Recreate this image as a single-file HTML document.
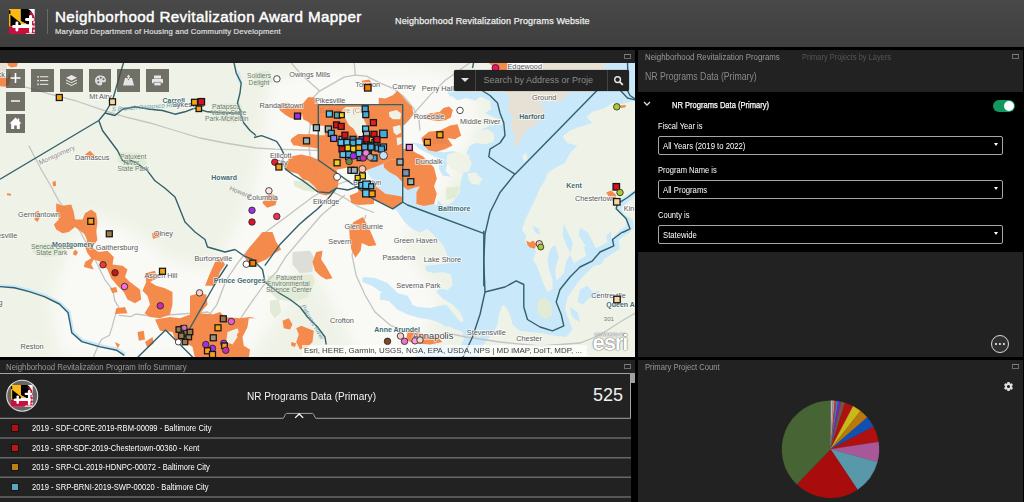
<!DOCTYPE html>
<html><head><meta charset="utf-8"><title>Neighborhood Revitalization Award Mapper</title>
<style>
*{box-sizing:border-box;margin:0;padding:0}
html,body{width:1024px;height:502px;overflow:hidden;background:#000;font-family:"Liberation Sans",sans-serif;color:#fff}
.abs{position:absolute}
#hdr{left:0;top:0;width:1024px;height:47px;background:linear-gradient(#494949,#3e3e3e)}
#hdr .t1{left:55px;top:7.7px;font-size:15.2px;font-weight:normal;letter-spacing:.37px;-webkit-text-stroke:.45px #fff;white-space:nowrap;color:#fff}
#hdr .t2{left:55px;top:27.3px;font-size:7.7px;font-weight:normal;letter-spacing:.17px;-webkit-text-stroke:.22px #ddd;white-space:nowrap;color:#ddd}
#hdr .lnk{left:395px;top:16px;font-size:9px;font-weight:normal;letter-spacing:.13px;-webkit-text-stroke:.25px #eee;white-space:nowrap;color:#eee}
#hdr .sep{left:47px;top:9px;width:1px;height:25px;background:#6a6a6a}
.panel{background:#222}
.ptitle{font-size:8.5px;color:#989898;white-space:nowrap;transform-origin:0 50%}
.sx{transform-origin:0 50%;display:inline-block}
.maxi{width:6.5px;height:5.4px;border:1px solid #6c6c6c;border-top:1.6px solid #808080}
#mapbar{left:0;top:50px;width:635px;height:13px;background:#222}
#map{left:0;top:63px;width:635px;height:294px;background:#f3f4ee;overflow:hidden}
.mbtn{background:rgba(85,85,85,.88);width:23px;height:23px}
#rp{left:638px;top:50px;width:385px;height:307px}
#rpblack{left:0;top:42px;width:386px;height:160px;background:#000}
.lbl{font-size:9px;color:#fff;white-space:nowrap;transform-origin:0 50%;transform:scaleX(.84)}
.sel{left:20px;width:344.5px;height:19px;border:1px solid #a6a6a6;background:#000;border-radius:2px}
.sel span{position:absolute;left:4px;top:4px;font-size:9px;white-space:nowrap;transform-origin:0 50%;transform:scaleX(.858)}
.sel i{position:absolute;right:3.5px;top:6px;border-left:2.7px solid transparent;border-right:2.7px solid transparent;border-top:3.3px solid #fff}
#bl{left:0;top:360px;width:635px;height:142px}
#br{left:638px;top:360px;width:385px;height:142px}
.row{left:0;width:631px;height:20px}
.row b{position:absolute;left:11.3px;top:6px;width:7.6px;height:7.6px;border:1px solid #151515}
.row span{position:absolute;left:31.5px;top:4.5px;font-size:8.5px;white-space:nowrap;font-weight:normal;transform-origin:0 50%;transform:scaleX(.892)}
</style></head><body>
<div id="hdr" class="abs">
  <div class="abs" style="left:9px;top:8.7px;width:25.7px;height:25.7px"><svg width="25.7" height="25.7" viewBox="0 0 360 360"><rect width="360" height="360" fill="#fff"/><rect x="0" y="0" width="165" height="240" fill="#fdb913"/><polygon points="20,80 165,195 165,240 20,240" fill="#000"/><polygon points="0,15 20,25 20,75 0,62" fill="#000"/><path d="M165,0 H268 Q335,30 338,115 L300,140 V215 H255 L165,170 Z" fill="#000"/><polygon points="165,172 250,215 165,215" fill="#fdb913"/><path d="M285,28 Q360,55 360,150 V340 H300 V100 Z" fill="#c8103c"/><path d="M0,240 H300 V340 H245 Q225,360 195,360 H0 Z" fill="#c8103c"/><rect x="281" y="85" width="42" height="252" rx="18" fill="#fff"/><rect x="226" y="127" width="125" height="40" rx="18" fill="#fff"/><rect x="44" y="225" width="292" height="40" rx="18" fill="#fff"/><rect x="91" y="174" width="40" height="140" rx="18" fill="#fff"/><rect x="340" y="172" width="20" height="28" fill="#fff"/><rect x="340" y="232" width="20" height="28" fill="#fff"/><rect x="340" y="292" width="20" height="28" fill="#fff"/></svg></div>
  <div class="abs sep"></div>
  <div class="abs t1">Neighborhood Revitalization Award Mapper</div>
  <div class="abs t2">Maryland Department of Housing and Community Development</div>
  <div class="abs lnk">Neighborhood Revitalization Programs Website</div>
</div>
<div id="mapbar" class="abs"><div class="abs maxi" style="left:624.3px;top:3.6px"></div></div>
<div id="map" class="abs">
<svg width="635" height="294" viewBox="0 63 635 294" style="position:absolute;left:0;top:0;font-family:'Liberation Sans',sans-serif">
<rect x="0" y="63" width="635" height="294" fill="#eff3e7"/>
<defs><filter id="bl" x="-20%" y="-20%" width="140%" height="140%"><feGaussianBlur stdDeviation="7"/></filter></defs>
<g filter="url(#bl)">
<polygon points="270,80 330,66 420,66 470,80 480,120 460,160 440,200 400,240 440,300 420,345 360,357 330,300 300,250 270,230 250,200 262,150" fill="#f9f9f6"/>
<polygon points="250,200 300,250 290,300 250,357 60,357 50,300 70,250 90,215 130,230 170,260 215,270 235,230" fill="#f9f9f6"/>
</g>
<polygon points="537.5,300.8 545,297.5 551.2,303.2 552.5,314.5 546.2,319.5 540,315.8 537,308.2" fill="#e2ebd5"/>
<polygon points="267.5,275.8 312.5,274.5 315,282 307.5,297 295,302 277.5,299.5 267.5,289.5" fill="#e2ebd5"/>
<polygon points="270,300.8 278.8,299.5 281.2,312 275,318.2 270,312" fill="#e2ebd5"/>
<polygon points="32.5,244.5 50,243.2 65,247 62.5,255.8 45,257 32.5,253.2" fill="#e2ebd5"/>
<polygon points="212.5,104.2 240,103 243.8,113 235,123 220,121.8 210,114.2" fill="#e2ebd5"/>
<polygon points="117.5,151.8 140,153 147.5,163 140,170.5 125,168 117.5,160.5" fill="#e2ebd5"/>
<polygon points="254,72.4 269,70.5 272.8,81.8 261.5,87.4 254,85.5" fill="#e2ebd5"/>
<polygon points="293.4,180.6 308.4,181.6 315.9,186.3 314,191.9 302.8,190 294.3,186.3" fill="#e2ebd5"/>
<polygon points="446.2,187.5 460,186.2 456.2,197.5 446.2,200" fill="#e2ebd5"/>
<polygon points="292.5,252 310,250.8 313.8,257 312.5,272 300,273.2 292.5,264.5" fill="#deded8"/>
<polygon points="455,88 451.2,95.5 457.5,100.5 466.2,98 475,100.5 480,96.8 490,100.5 491.2,109.2 485,113 492.5,116.8 501.2,120 502.5,124.2 490,125.5 483.8,128.5 478.8,131.8 485,135.5 493.8,136.8 493.8,141.8 485,144.2 476.2,143 470,145.5 466.2,153 470,156.8 466.2,161.8 463.8,170.5 461.2,180.5 459.5,192.5 452.5,202.5 443.8,206.2 438,200 437,207.5 430,206.8 417.5,206.2 415.8,195 410,188 404.5,195 402.5,203 395,208 400.5,216 404.5,222 413,229.5 420,232.5 427.5,228.8 433.8,235 442.5,244.5 447,254.5 449.5,263.2 451.2,274.5 452.5,285.8 447.5,290 440,288.2 436.2,292 442.5,298.2 452.5,304.5 460,312 463.8,320.8 455,325 446,314.5 437.5,311.5 430,312 440,319.5 452.5,328.2 462.5,332 463.8,339.5 460,347 455,358.2 637,358 637,62 455,62" fill="#c9e8fa"/>
<polygon points="412.5,142.5 422.5,144.2 433.8,150 443.8,152.5 452.5,151 462.5,153.5 466.2,159.2 455,161 447.5,163.5 445.5,171 451.2,176.8 442.5,175.5 438.8,168 440,159.2 430,154.2 420,149.2" fill="#c9e8fa"/>
<polygon points="370.3,160.9 381.5,160 383.8,167.5 389.4,172.2 396.5,175.9 402.5,182.5 409.6,186.3 415.6,184.4 419.9,186.3 416.4,192.3 416.4,204.1 423.7,205.9 434,204.1 446,210.6 446,218.1 409.6,218.1 403.1,211 393.1,208.8 402.7,202.2 402.1,196.6 393.7,195.6 385.3,193.8 375.9,186.3 370.3,176.9 366.5,170.3 374,167.5" fill="#c9e8fa"/>
<polygon points="415.6,176.9 422.8,179.1 419,186.3 415.3,184.4" fill="#c9e8fa"/>
<polygon points="362.5,277 375,278 387.5,283 397.5,293 407.5,303 417.5,307 430,308 446,304.5 463,325 446,327 440,323 430,319.5 420,318 407.5,314.5 397.5,309.5 390,302 382.5,293 372.5,286 362.5,282" fill="#c9e8fa"/>
<polygon points="380,293.2 392.5,292 407.5,295.8 412.5,304.5 402.5,307 395,302 380,299.5" fill="#c9e8fa"/>
<polygon points="425,265.8 437.5,264.5 449.5,263.2 451.2,274.5 442.5,272 433.8,273.2 426.2,270.8" fill="#c9e8fa"/>
<polygon points="417.5,345.8 435,344.5 455,347 455,358.2 415,358.2" fill="#c9e8fa"/>
<polygon points="447.5,91 455,88 455,94.2 450,96.8" fill="#c9e8fa"/>
<polygon points="235,70.5 240,71.8 242,83 238.8,84.2" fill="#c9e8fa"/>
<polyline points="0,285.8 15,287 30,290.8 45,295.8 60,303.2 68.8,312 71.2,324.5 72.5,332 82.5,340.8 100,345.8 117.5,349.5 125,354.5" fill="none" stroke="#c9e8fa" stroke-width="3.5" stroke-linejoin="round"/>
<polygon points="455,62 545,62 545,92 455,92" fill="#eff3e7"/>
<polygon points="522.5,155.5 526.2,153 527.5,159.2 523.8,161.8" fill="#eff3e7"/>
<polygon points="468.8,177.5 476.2,175 482.5,178.8 478.8,185 471.2,183.8" fill="#eff3e7"/>
<polygon points="637,100.5 626.2,103 620,104.2 612.5,103 605,108 592.5,111.8 586.2,116.8 592.5,123 580,126.8 570,130.5 562.5,136.8 567.5,143 577.5,145.5 570,153 565,163 555,168 547.5,173 545,180.5 540,188 536.2,197.5 530,210 525,220 522,230 526.2,235 525,242.5 530,246.2 536.2,251.2 533,260 536.2,264.5 540,274.5 543.8,284.5 548,292 552.5,289 552.5,279.5 549,269.5 547.5,259.5 550,249.5 555,244.5 558.8,257 555,269.5 556.2,280.8 563.8,273.2 566.2,262 570,254.5 573.8,263.2 580,259.5 586.2,255.8 583.8,247 590,243.2 595,248.2 601.2,245.8 607.5,242 606.2,235.8 611.2,230.8 611,240 618,232 626,226 626,219 617,211 614,204 622,198 630,193 637,188" fill="#eff3e7"/>
<polygon points="637,192 633,198 627,203 621,208 624,214 633,220 634,228 628,234 626.2,234.5 618.8,240 620,249 611.2,254.5 605,258.2 601.2,264.5 593.8,265.8 587.5,272 580,279.5 573.8,288.2 567.5,297.5 565,309.5 568.8,319.5 572.5,329.5 566.2,337 555,335.8 542.5,333.2 530,332 520,330.8 512.5,324.5 510,314.5 506.2,307 502.5,305 498.8,314.5 497.5,324.5 493.8,332 487.5,339.5 480,349.5 477.5,358.2 637,358.2" fill="#eff3e7"/>
<polygon points="478.8,130.5 487.5,129.2 493.8,133 493.8,139.2 487.5,141 480,138" fill="#eff3e7"/>
<polygon points="447.5,154.2 457.5,151.8 467.5,155.5 472,163 468.8,171.8 460,173 451.2,169.2 446.2,161.8" fill="#eff3e7"/>
<polygon points="467.5,173 476.2,172.5 480,178 476.2,183 468.8,180.5" fill="#eff3e7"/>
<polygon points="543,62 606,62 604,72 590,92 543,92" fill="#e7e1d5"/>
<polygon points="502.5,88 510,98 507.5,108 512.5,116.8 511.2,128 515,138 513.8,145.5 517.5,146.8 521.2,138 526.2,130.5 535,125.5 542.5,116.8 545,110.5 540,105.5 545,100.5 555,103 565,98 572.5,88" fill="#e7e1d5"/>
<polygon points="-1.2,61.8 6.2,61.8 7,68 3.8,74.2 -1.2,74.2" fill="#e7e1d5"/>
<polygon points="563.8,223.8 568,232.5 573,242.5 570.5,253 566.2,245 562.5,235" fill="#c9e8fa"/>
<polygon points="580,227.5 588,232.5 593,242.5 598,253 592.5,255.5 585,245 578.8,235" fill="#c9e8fa"/>
<polygon points="532.5,225.5 538.8,228.8 540,235 535,232.5" fill="#c9e8fa"/>
<polygon points="580,289.5 587.5,285.8 592.5,292 600,290.8 597.5,297 588.8,298.2 582.5,304.5 577.5,302" fill="#c9e8fa"/>
<polygon points="570,307 577.5,312 580,322 575,319.5 571.2,314.5" fill="#c9e8fa"/>
<polygon points="537.5,300.8 545,297.5 551.2,303.2 552.5,314.5 546.2,319.5 540,315.8 537,308.2" fill="#e2ebd5"/>
<polyline points="25,86.8 50,94.2 75,100.5 100,109.2 125,116.8 150,123 175,130.5 200,138 225,143 256,148 275,149.2 320,150.5" fill="none" stroke="#c4c4c0" stroke-width="1.3"/>
<polyline points="28.8,145.8 41.2,169.5 50,184.5 58.8,200.8 75,222 92.5,254.5 97.5,264.5" fill="none" stroke="#c4c4c0" stroke-width="1.3"/>
<polyline points="97.5,264.5 105,280 112.8,290 114.8,300.7 118.8,307.4 114.8,316.7 112,327.4 109.4,335.4 101.4,339.4 97.4,347.4 93.4,357" fill="none" stroke="#c4c4c0" stroke-width="1.3"/>
<polyline points="118.8,315.4 130.8,316.7 136,314 150,316 175,314.5 195,313 207.5,312 216,318 224,330 228,345 226,357" fill="none" stroke="#c4c4c0" stroke-width="1.3"/>
<polyline points="350,180 330,187 312.6,197 288.7,214.9 264.8,232.8 249.8,247.8 237.8,262.8 225.9,280.7 216.9,304.6 208,316.6" fill="none" stroke="#c4c4c0" stroke-width="1.3"/>
<polyline points="345,195 321.6,215 303.6,235.8 285.7,256.8 276.7,271.7 264.8,283.7 249.8,304.6 237.8,322.6" fill="none" stroke="#c4c4c0" stroke-width="1.3"/>
<polyline points="310.3,124.9 308.4,111.8 310.3,100.5 319.6,91.1 332.8,83.6 344,77.1 355.3,75.2 366.5,76.1 381.5,83.6 392.8,88.3 404,96.8 413.4,108 419,119.3 419.9,130.5" fill="none" stroke="#c4c4c0" stroke-width="1.3"/>
<polyline points="310.3,124.4 308.4,141.3 310.3,158.1 317.8,176.9 329,190 344,197.5 359,206.9 374,212.5" fill="none" stroke="#c4c4c0" stroke-width="1.3"/>
<polyline points="366,215 358,235 352,255 356,275 365,295 375,312 390,325 410,333 430,338 447,333 466,337 500,342 540,346 580,343 600,335 620,322 637,312" fill="none" stroke="#c4c4c0" stroke-width="1.3"/>
<polyline points="355.3,75.2 354.3,63" fill="none" stroke="#c4c4c0" stroke-width="1.3"/>
<polyline points="319.6,91.1 300.9,74.3 291.5,63" fill="none" stroke="#c4c4c0" stroke-width="1.3"/>
<polyline points="404,124.9 417.1,109.9 430.3,94.9 445,80.5 462.5,68 471.2,61.8" fill="none" stroke="#c4c4c0" stroke-width="1.3"/>
<g opacity="0.95">
<polygon points="278,106.5 282.1,103.3 287.4,102.8 291.5,106.5 297.1,104.6 303.1,103.3 302.4,112.1 300.9,119.3 294.3,119.3 289.6,117.4 284.9,114.6 280.3,110.8" fill="#f58545"/>
<polygon points="303.1,103.3 308.4,97.1 315.5,97.7 318.3,104.6 318.3,124.9 312.1,125.8 309.3,122.6 303.1,119.3 301.8,112.1" fill="#f58545"/>
<polygon points="318.3,135.2 311.2,134.3 299,135.2 291.1,140.3 293.4,145.5 310.3,144.9 318.3,145.5" fill="#f58545"/>
<polygon points="290.6,141.3 291.5,138.4 298.1,134.1 318.3,134.7 318.3,148.8 310.3,147.3 300.9,146.5 293.4,144.6" fill="#f58545"/>
<polygon points="318.3,104.6 402.7,104.6 402.7,156.9 318.3,156.9" fill="#f58545"/>
<polygon points="318.3,130 402.7,130 402.7,158.1 389,160 383.4,163.8 374,167.5 366.5,170.3 356.2,173.1 347.8,167.5 336.5,169.8 329,165.1 318.3,160.4" fill="#f58545"/>
<polygon points="383.4,163.8 389,160 402.7,158.1 402.7,182.5 396.5,175.9 389.4,172.2 383.8,167.5" fill="#f58545"/>
<polygon points="378.7,97.7 385.3,98.6 392.8,95.3 397.4,90.8 402.1,95.8 406.8,101.4 412.1,107.1 413.4,113.3 409.6,119.3 406.3,122.6 402.7,125.8 402.7,104.6 378.7,104.6" fill="#f58545"/>
<polygon points="361.8,80.8 369.3,79.5 372.1,83.6 370.3,91.1 364.6,91.1 362.4,86.4" fill="#f58545"/>
<polygon points="422.8,116.4 430.3,113.3 439.6,112.1 443.4,108 449,106.5 452.8,109.9 450.9,117.4 445.3,120.2 438.7,121.1 432.1,120.2 426.5,119.3" fill="#f58545"/>
<polygon points="421.2,138 428.8,131.8 440,130.5 450,125.5 457.5,124.2 461.2,135.5 455,139.2 447.5,138 452.5,145.5 445,149.2 436.2,151.8 428.8,150.5 423.8,145.5" fill="#f58545"/>
<polygon points="402.7,148.8 409.6,148.8 415.3,152.5 422.8,156.3 434,167.5 436.8,178.8 434,186.3 436.8,193.8 434,204.1 423.7,205.9 416.4,204.1 416.4,192.3 419.9,186.3 413.4,188.1 407.8,190 402.7,186.3" fill="#f58545"/>
<polygon points="284,164.7 290.6,156.6 300.9,154.4 310.3,156.6 318.3,159.6 329,165.1 336.5,169.8 338.8,179.1 337.8,187.2 331.8,193.4 326.2,195.6 319.6,193.8 314.4,186.3 308.4,181 303.1,179.5 298.1,173.9 291.5,172 285.5,170.3" fill="#f58545"/>
<polygon points="349.6,195.6 358.1,191.9 359,184.4 366.5,181.6 375.9,186.3 385.3,193.8 402.1,196.6 402.7,202.2 393.1,208.8 374,199.8 374,204.1 359,205 351.5,203.1" fill="#f58545"/>
<polygon points="262.4,203.1 266.2,195.6 272.8,193.8 277.4,197.5 275.6,205 267.1,207.8" fill="#f58545"/>
<polygon points="349.2,229.5 353.3,222.2 362.8,217 366.9,224.3 371.1,232.7 376.4,245.2 369,246.3 361.7,243.1 360.7,250.4 355.4,257.8 351.3,249.4 349.8,238.9" fill="#f58545"/>
<polygon points="316.2,252 322.5,250.8 321.2,259.5 326.2,267 332.5,278.2 326.2,279.5 320,275.8 315,270.8 312.5,262" fill="#f58545"/>
<polygon points="243.8,255.8 250,247 256.2,239.5 262.5,232 272.5,232 276.2,242 281.2,249.5 272.5,254.5 266.2,259.5 257.5,263.2 247.5,262" fill="#f58545"/>
<polygon points="205,285.8 210,273.2 215,262 221.2,258.2 225,264.5 220,272 215,285.8" fill="#f58545"/>
<polygon points="282.5,320.8 288.8,318.2 292.5,324.5 290,329.5 283.8,328.2" fill="#f58545"/>
<polygon points="296.2,328.2 301.2,325.8 307.5,328.2 313.8,330.8 312.5,342 307.5,347 300,349.5 296.2,342 298.8,334.5" fill="#f58545"/>
<polygon points="291.2,342 296.2,343.2 295,347 291.2,345.8" fill="#f58545"/>
<polygon points="212.5,314.5 220,312 225,317 240,318.2 250,317 256,318.2 248.8,318.2 247.5,327 242.5,337 243.8,345.8 250,349.5 248.8,358.2 195,358.2 192.5,347 185,342 175,339.5 172.5,332 160,330.8 155,319.5 170,317 180,318.2 190,314.5 196.2,307 190,305.8 192.5,298.2 200,293.2 206.2,294.5 207.5,304.5 200,313.2" fill="#f58545"/>
<polygon points="190,295.8 198.8,293.2 205,297 206.2,304.5 200,312 190,314.5" fill="#f58545"/>
<polygon points="145,273.2 155,270.8 157.5,278.2 150,282 156.2,285.8 165,288.2 172.5,292 172.5,304.5 170,314.5 160,318.2 150,317 144.5,313.2 150,304.5 147.5,295.8 142.5,290.8 146.2,282" fill="#f58545"/>
<polygon points="82.5,230.8 96.2,230.8 96.2,242 91.2,247 98.8,252 107.5,250.8 113.8,257 112.5,264.5 122.5,265.8 127.5,269.5 125,277 130,282 140,289.5 141.2,299.5 135,303.2 127.5,299.5 123.8,292 117.5,285.8 111.2,278.2 107.5,269.5 101.2,262 93.8,259.5 91.2,264.5 93.8,269.5 83.8,267 85,262 91.2,258.2 87.5,253.2 85,247 87.5,239.5" fill="#f58545"/>
<polygon points="110,288.2 116.2,287 117.5,292 112.5,293.2" fill="#f58545"/>
<polygon points="116.2,308.2 125,307 127.5,313.2 115,314" fill="#f58545"/>
<polygon points="137.5,332 143.8,330.8 145,339.5 138.8,340.8" fill="#f58545"/>
<polygon points="145,342 152.5,337 153.8,343.2 147.5,348.2" fill="#f58545"/>
<polygon points="115,342 120,344.5 117.5,348.2" fill="#f58545"/>
<polygon points="152.5,233.2 158.8,232 160,237 153.8,238.2" fill="#f58545"/>
<polygon points="73.8,250.8 77.5,252 76.2,255.8 73,254.5" fill="#f58545"/>
<polygon points="56.2,203.2 62.5,205.8 71.2,204.5 73.8,212 75,219.5 82.5,219.5 85,213.2 91.2,209.5 96.2,213.2 97.5,222 96.2,232 97.5,240.8 87.5,242 85,234.5 80,230.8 75,227 68.8,232 62.5,233.2 56.2,229.5 53.8,224.5 58.8,219.5 56.2,212" fill="#f58545"/>
<polygon points="85,154.5 90,150.8 95,155.8 90,158.2" fill="#f58545"/>
<polygon points="52.5,182 55.5,180.8 56.2,185.8 53.2,186.5" fill="#f58545"/>
<polygon points="7,193.2 11.2,193.8 10.8,195.8 7,195.2" fill="#f58545"/>
<polygon points="35,212 38.8,210.8 40,217 37.5,222 34.5,219.5" fill="#f58545"/>
<polygon points="152,233.2 156.2,232 157,237 153,239" fill="#f58545"/>
<polygon points="75,249.5 78,252 76.2,255 73.8,253.2" fill="#f58545"/>
<polygon points="-1.2,74.2 3.8,75.5 7.5,79.2 9.5,70.5 11.2,78 8.8,85.5 5,86.8 -1.2,86" fill="#f58545"/>
<polygon points="7,61.8 18,61.8 17,66.5 11.2,67.5 8,65.5" fill="#f58545"/>
<polygon points="487.5,61.8 516.2,61.8 512.5,69.2 497.5,70.5" fill="#f58545"/>
<polygon points="606.2,192.5 611.2,190.5 616.2,195 615,198.8 609.5,197.5" fill="#f58545"/>
<polygon points="526.2,240.5 530,242.5 533,240.5 536.2,243.8 535,248.8 530,247.5 527.5,245" fill="#f58545"/>
<polygon points="620,105.5 626.2,105 625,107.5 620.5,108" fill="#f58545"/>
<polygon points="407.5,332 415,330.8 425,334.5 437.5,337 442.5,342 430,344.5 412.5,343.2 406.2,339.5" fill="#f58545"/>
</g>
<polygon points="227.5,332 235,329.5 237.5,337 232.5,344.5 226.2,342" fill="#eff3e7"/>
<polygon points="228.8,332 237.5,328.2 238.8,332 231.2,342 227.5,339.5" fill="#eff3e7"/>
<polygon points="345.9,107.1 361.8,107.1 363.7,119.3 366.5,124.9 363.7,134.3 359,138 353.4,128.6 348.7,124.9 344.9,117.4 342.1,109.9" fill="#eff3e7"/>
<polygon points="389,112.1 396.5,109.9 401.2,113.6 400.3,119.3 392.8,119.3 389.4,116.4" fill="#eff3e7"/>
<polygon points="392.8,126.8 400.3,124.9 401.2,132.4 396.5,135.2 393.7,132.4" fill="#eff3e7"/>
<polygon points="396.5,138 401.2,137.1 401.8,143.6 397.4,145.5" fill="#eff3e7"/>
<polygon points="318.7,125.8 324.3,125.8 324.9,135.2 318.7,135.2" fill="#eff3e7"/>
<polyline points="123.8,61.8 117.5,83 112.5,100.5 105,113 98.8,120.5 0,179.2" fill="none" stroke="#33606a" stroke-width="1.4" stroke-linejoin="round"/>
<polyline points="105,113 115,115.5 122.5,109.2 135,106.8 150,109.2 162.5,110.5 175,114.2 185,111.8 195,108 207.5,111.8 225,113 240,113 243.8,123 250,130.5 256,135.5" fill="none" stroke="#33606a" stroke-width="1.4" stroke-linejoin="round"/>
<polyline points="98.8,120.5 102.5,130.5 110,140.5 117.5,150.5 122.5,160.5 128.8,164.2" fill="none" stroke="#33606a" stroke-width="1.4" stroke-linejoin="round"/>
<polyline points="233.8,61.8 236.2,73 241.2,83 240,93 237.5,103 241.2,113" fill="none" stroke="#33606a" stroke-width="1.4" stroke-linejoin="round"/>
<polyline points="128.8,160 135,162 147.5,170.8 155,180.8 165,188.2 175,197 180,209.5 185,222 195,232 205,239.5 207.5,247 225,252 235,249.5" fill="none" stroke="#33606a" stroke-width="1.4" stroke-linejoin="round"/>
<polyline points="318.3,104.6 402.7,104.6 402.7,202.2 392.7,208.8 374,199.4 318.3,160 318.3,104.6" fill="none" stroke="#33606a" stroke-width="1.4" stroke-linejoin="round"/>
<polyline points="473.8,61.8 472.5,68" fill="none" stroke="#33606a" stroke-width="1.4" stroke-linejoin="round"/>
<polyline points="481.2,90 490,95.5 497.5,103 500,113 503.8,123 505,135.5 500,143 490,149.2 488.8,156.8 497.5,163 515,174.2" fill="none" stroke="#33606a" stroke-width="1.4" stroke-linejoin="round"/>
<polyline points="597.5,90 515,174.2" fill="none" stroke="#33606a" stroke-width="1.4" stroke-linejoin="round"/>
<polyline points="627.5,61.8 628,78 626.2,88 630,95.5 637.5,100.5" fill="none" stroke="#33606a" stroke-width="1.4" stroke-linejoin="round"/>
<polyline points="620,90 627.5,98 637.5,100.5" fill="none" stroke="#33606a" stroke-width="1.4" stroke-linejoin="round"/>
<polyline points="515,173.8 500,192.5 490,212.5 485,233.8 483.8,260 483.8,286.2" fill="none" stroke="#33606a" stroke-width="1.4" stroke-linejoin="round"/>
<polyline points="402.5,202 407.5,205 485,233.8" fill="none" stroke="#33606a" stroke-width="1.4" stroke-linejoin="round"/>
<polyline points="483.8,230.8 483.8,262 485,292 480,314.5 472.5,337 462.5,358.2" fill="none" stroke="#33606a" stroke-width="1.4" stroke-linejoin="round"/>
<polyline points="485,292 505,287 516.2,280.8 523.8,284.5 523.8,307 527.5,319.5 540,327 552.5,330.8 563.8,325.8 561.2,314.5 556.2,302 560,289.5 570,277 580,267 592.5,260.8 600,252 613.8,245.8 612.5,239.5 622.5,232" fill="none" stroke="#33606a" stroke-width="1.4" stroke-linejoin="round"/>
<polyline points="637.5,190 627.5,197.5 617.5,203.8 616.2,208.8 626.2,218.8 630,228.8 622.5,232.5" fill="none" stroke="#33606a" stroke-width="1.4" stroke-linejoin="round"/>
<polyline points="254,137.5 261.5,135.6 269,138.4 276.5,141.3 280.3,146.9 284,154.4 282.1,161.9 285.9,169.4 293.4,175 302.8,180.6 310.3,186.3 317.8,191.9 329,192.8 336.5,188.1 347.8,190 359,186.3" fill="none" stroke="#33606a" stroke-width="1.4" stroke-linejoin="round"/>
<polyline points="336.5,188.1 329,197.5 317.8,208.8 306.5,218.1 299,224.7 279.7,244.8 264.8,265.7" fill="none" stroke="#33606a" stroke-width="1.4" stroke-linejoin="round"/>
<polyline points="235,249.5 243.8,255.8 252.5,259.5 262.5,269.5 265,282 277.5,292 290,299.5 300,307 307.5,317 317.5,327 325,337 326.2,344.5" fill="none" stroke="#33606a" stroke-width="1.4" stroke-linejoin="round"/>
<polyline points="227.5,264.5 217.3,280 188.3,331 184,338.5" fill="none" stroke="#33606a" stroke-width="1.4" stroke-linejoin="round"/>
<polyline points="137,358 165.5,330 193.5,358" fill="none" stroke="#33606a" stroke-width="1.4" stroke-linejoin="round"/>
<polyline points="-0.7,286.6 14.3,287.8 29.3,291.6 44.3,296.6 59.3,304 68.1,312.8 70.5,325.3 71.8,332.8 81.8,341.6 99.3,346.6 116.8,350.3 124.3,355.3" fill="none" stroke="#33606a" stroke-width="1.4" stroke-linejoin="round"/>
<rect x="507.5" y="62" width="34.5" height="7.2" fill="#fff" opacity=".92"/>
<text x="289.3" y="76.9" font-size="7.3" fill="#585858" stroke="#fff" stroke-width="1.5" paint-order="stroke" stroke-opacity=".8">Owings Mills</text>
<text x="355.3" y="86.6" font-size="7.3" fill="#585858" stroke="#fff" stroke-width="1.5" paint-order="stroke" stroke-opacity=".8">Towson</text>
<text x="392.2" y="89.4" font-size="7.3" fill="#585858" stroke="#fff" stroke-width="1.5" paint-order="stroke" stroke-opacity=".8">Carney</text>
<text x="421.8" y="90.9" font-size="7.3" fill="#585858" stroke="#fff" stroke-width="1.5" paint-order="stroke" stroke-opacity=".8">Perry Hall</text>
<text x="315" y="102.6" font-size="7.3" fill="#585858" stroke="#fff" stroke-width="1.5" paint-order="stroke" stroke-opacity=".8">Pikesville</text>
<text x="259.6" y="108.4" font-size="7.3" fill="#585858" stroke="#fff" stroke-width="1.5" paint-order="stroke" stroke-opacity=".8">Randallstown</text>
<text x="413.8" y="119" font-size="7.3" fill="#585858" stroke="#fff" stroke-width="1.5" paint-order="stroke" stroke-opacity=".8">Rosedale</text>
<text x="270" y="157.9" font-size="7.3" fill="#585858" stroke="#fff" stroke-width="1.5" paint-order="stroke" stroke-opacity=".8">Ellicott</text>
<text x="275" y="165.1" font-size="7.3" fill="#585858" stroke="#fff" stroke-width="1.5" paint-order="stroke" stroke-opacity=".8">City</text>
<text x="415.6" y="164.1" font-size="7.3" fill="#585858" stroke="#fff" stroke-width="1.5" paint-order="stroke" stroke-opacity=".8">Dundalk</text>
<text x="353" y="184.6" font-size="7.3" fill="#585858" stroke="#fff" stroke-width="1.5" paint-order="stroke" stroke-opacity=".8">Brooklyn</text>
<text x="313" y="204.2" font-size="7.3" fill="#585858" stroke="#fff" stroke-width="1.5" paint-order="stroke" stroke-opacity=".8">Elkridge</text>
<text x="247" y="200.3" font-size="7.3" fill="#585858" stroke="#fff" stroke-width="1.5" paint-order="stroke" stroke-opacity=".8">Columbia</text>
<text x="507.5" y="68.6" font-size="7.3" fill="#585858" stroke="#fff" stroke-width="1.5" paint-order="stroke" stroke-opacity=".8">Edgewood</text>
<text x="460" y="123.6" font-size="7.3" fill="#585858" stroke="#fff" stroke-width="1.5" paint-order="stroke" stroke-opacity=".8">Middle River</text>
<text x="519.3" y="118.5" font-size="7" font-weight="bold" fill="#3f6b70" stroke="#fff" stroke-width="1.4" paint-order="stroke" stroke-opacity=".75">Harford</text>
<text x="532" y="100.1" font-size="7.3" fill="#585858" stroke="#fff" stroke-width="1.5" paint-order="stroke" stroke-opacity=".8">Ground</text>
<text x="566.3" y="188.2" font-size="7" font-weight="bold" fill="#3f6b70" stroke="#fff" stroke-width="1.4" paint-order="stroke" stroke-opacity=".75">Kent</text>
<text x="438" y="210.5" font-size="7" font-weight="bold" fill="#3f6b70" stroke="#fff" stroke-width="1.4" paint-order="stroke" stroke-opacity=".75">Baltimore</text>
<text x="575" y="201.4" font-size="7.3" fill="#585858" stroke="#fff" stroke-width="1.5" paint-order="stroke" stroke-opacity=".8">Chestertown</text>
<text x="623.8" y="211.4" font-size="7.3" fill="#585858" stroke="#fff" stroke-width="1.5" paint-order="stroke" stroke-opacity=".8">Kin</text>
<text x="393.8" y="242.6" font-size="7.3" fill="#585858" stroke="#fff" stroke-width="1.5" paint-order="stroke" stroke-opacity=".8">Green Haven</text>
<text x="382.5" y="259.6" font-size="7.3" fill="#585858" stroke="#fff" stroke-width="1.5" paint-order="stroke" stroke-opacity=".8">Pasadena</text>
<text x="423.8" y="262.1" font-size="7.3" fill="#585858" stroke="#fff" stroke-width="1.5" paint-order="stroke" stroke-opacity=".8">Lake Shore</text>
<text x="396.3" y="287.9" font-size="7.3" fill="#585858" stroke="#fff" stroke-width="1.5" paint-order="stroke" stroke-opacity=".8">Severna Park</text>
<text x="374.3" y="332" font-size="7" font-weight="bold" fill="#3f6b70" stroke="#fff" stroke-width="1.4" paint-order="stroke" stroke-opacity=".75">Anne Arundel</text>
<text x="466.8" y="335.4" font-size="7.3" fill="#585858" stroke="#fff" stroke-width="1.5" paint-order="stroke" stroke-opacity=".8">Stevensville</text>
<text x="516.3" y="340.6" font-size="7.3" fill="#585858" stroke="#fff" stroke-width="1.5" paint-order="stroke" stroke-opacity=".8">Chester</text>
<text x="591.3" y="298.4" font-size="7.3" fill="#585858" stroke="#fff" stroke-width="1.5" paint-order="stroke" stroke-opacity=".8">Centreville</text>
<text x="606.3" y="307" font-size="7" font-weight="bold" fill="#3f6b70" stroke="#fff" stroke-width="1.4" paint-order="stroke" stroke-opacity=".75">Queen A</text>
<text x="194.5" y="260.9" font-size="7.3" fill="#585858" stroke="#fff" stroke-width="1.5" paint-order="stroke" stroke-opacity=".8">Burtonsville</text>
<text x="213.8" y="282.8" font-size="7" font-weight="bold" fill="#3f6b70" stroke="#fff" stroke-width="1.4" paint-order="stroke" stroke-opacity=".75">Prince Georges</text>
<text x="328.3" y="244.1" font-size="7.3" fill="#585858" stroke="#fff" stroke-width="1.5" paint-order="stroke" stroke-opacity=".8">Severn</text>
<text x="344.5" y="228.6" font-size="7.3" fill="#585858" stroke="#fff" stroke-width="1.5" paint-order="stroke" stroke-opacity=".8">Glen Burnie</text>
<text x="330" y="322.6" font-size="7.3" fill="#585858" stroke="#fff" stroke-width="1.5" paint-order="stroke" stroke-opacity=".8">Crofton</text>
<text x="95.8" y="249.6" font-size="7.3" fill="#585858" stroke="#fff" stroke-width="1.5" paint-order="stroke" stroke-opacity=".8">Gaithersburg</text>
<text x="52" y="247" font-size="7" font-weight="bold" fill="#3f6b70" stroke="#fff" stroke-width="1.4" paint-order="stroke" stroke-opacity=".75">Montgomery</text>
<text x="144.5" y="278.4" font-size="7.3" fill="#585858" stroke="#fff" stroke-width="1.5" paint-order="stroke" stroke-opacity=".8">Aspen Hill</text>
<text x="153.8" y="236.1" font-size="7.3" fill="#585858" stroke="#fff" stroke-width="1.5" paint-order="stroke" stroke-opacity=".8">Olney</text>
<text x="20.5" y="349.1" font-size="7.3" fill="#585858" stroke="#fff" stroke-width="1.5" paint-order="stroke" stroke-opacity=".8">Reston</text>
<text x="-3" y="238.4" font-size="7.3" fill="#585858" stroke="#fff" stroke-width="1.5" paint-order="stroke" stroke-opacity=".8">esville</text>
<text x="75" y="160.4" font-size="7.3" fill="#585858" stroke="#fff" stroke-width="1.5" paint-order="stroke" stroke-opacity=".8">Damascus</text>
<text x="18" y="216.6" font-size="7.3" fill="#585858" stroke="#fff" stroke-width="1.5" paint-order="stroke" stroke-opacity=".8">Germantown</text>
<text x="211.3" y="179.5" font-size="7" font-weight="bold" fill="#3f6b70" stroke="#fff" stroke-width="1.4" paint-order="stroke" stroke-opacity=".75">Howard</text>
<text x="89.3" y="98.9" font-size="7.3" fill="#585858" stroke="#fff" stroke-width="1.5" paint-order="stroke" stroke-opacity=".8">Mt Airy</text>
<text x="162.5" y="102.5" font-size="7" font-weight="bold" fill="#3f6b70" stroke="#fff" stroke-width="1.4" paint-order="stroke" stroke-opacity=".75">Carroll</text>
<text x="172" y="106.9" font-size="7.3" fill="#585858" stroke="#fff" stroke-width="1.5" paint-order="stroke" stroke-opacity=".8">Sykesville</text>
<text x="-1.5" y="304.6" font-size="7.3" fill="#585858" stroke="#fff" stroke-width="1.5" paint-order="stroke" stroke-opacity=".8">g</text>
<text x="-4" y="76.6" font-size="7.3" fill="#585858" stroke="#fff" stroke-width="1.5" paint-order="stroke" stroke-opacity=".8">ick</text>
<text x="247" y="78.2" font-size="6.7" fill="#66786a" stroke="#fff" stroke-width="1" paint-order="stroke" stroke-opacity=".45">Soldiers</text>
<text x="248.6" y="84.5" font-size="6.7" fill="#66786a" stroke="#fff" stroke-width="1" paint-order="stroke" stroke-opacity=".45">Delight</text>
<text x="120" y="159.2" font-size="6.7" fill="#66786a" stroke="#fff" stroke-width="1" paint-order="stroke" stroke-opacity=".45">Patuxent</text>
<text x="123.5" y="164.9" font-size="6.7" fill="#66786a" stroke="#fff" stroke-width="1" paint-order="stroke" stroke-opacity=".45">River</text>
<text x="117.5" y="170.7" font-size="6.7" fill="#66786a" stroke="#fff" stroke-width="1" paint-order="stroke" stroke-opacity=".45">State Park</text>
<text x="31" y="248.7" font-size="6.7" fill="#66786a" stroke="#fff" stroke-width="1" paint-order="stroke" stroke-opacity=".45">Seneca Creek</text>
<text x="36" y="254.7" font-size="6.7" fill="#66786a" stroke="#fff" stroke-width="1" paint-order="stroke" stroke-opacity=".45">State Park</text>
<text x="276" y="279.5" font-size="6.7" fill="#66786a" stroke="#fff" stroke-width="1" paint-order="stroke" stroke-opacity=".45">Patuxent</text>
<text x="267" y="285.7" font-size="6.7" fill="#66786a" stroke="#fff" stroke-width="1" paint-order="stroke" stroke-opacity=".45">Environmental</text>
<text x="266" y="291.9" font-size="6.7" fill="#66786a" stroke="#fff" stroke-width="1" paint-order="stroke" stroke-opacity=".45">Science Center</text>
<text x="212" y="108.9" font-size="6.7" fill="#66786a" stroke="#fff" stroke-width="1" paint-order="stroke" stroke-opacity=".45">Patapsco</text>
<text x="211" y="115.2" font-size="6.7" fill="#66786a" stroke="#fff" stroke-width="1" paint-order="stroke" stroke-opacity=".45">Valley State</text>
<text x="205" y="121" font-size="6.7" fill="#66786a" stroke="#fff" stroke-width="1" paint-order="stroke" stroke-opacity=".45">Park-McKeldin</text>
<text x="412.5" y="339.3" font-size="9.3" fill="#444" stroke="#fff" stroke-width="1.6" paint-order="stroke" stroke-opacity=".8">Annapolis</text>
<text x="319.6" y="113" font-size="7.3" fill="#d07850" opacity=".75">Baltimore (City)</text>
<text x="369" y="160" font-size="9.3" fill="#d07850" opacity=".7">ore</text>
<text x="428" y="144" font-size="7.3" fill="#d07850" opacity=".6">Essex</text>
<text transform="translate(40,165) rotate(-24)" font-size="7" fill="#8a8a8a" stroke="#fff" stroke-width="1.2" paint-order="stroke" stroke-opacity=".7">Montgomery</text>
<text transform="translate(208,330) rotate(0)" font-size="0"> </text>
<text transform="translate(112,111.3) rotate(-4)" font-size="6.2" fill="#6a9aa8" font-style="italic">S Branch Patapsco River</text>
<text transform="translate(229,190) rotate(22)" font-size="6.5" fill="#8a8a8a">Howard</text>
<text transform="translate(301,306) rotate(60)" font-size="6" fill="#6a9aa8" font-style="italic">Patuxent River</text>
<text x="603.8" y="320.5" font-size="6" fill="#777">301</text>
<rect x="356.4" y="146.6" width="6" height="6" fill="#ecd41c" stroke="#151515" stroke-width="1.25"/>
<rect x="356.3" y="152.2" width="6" height="6" fill="#4aa8d8" stroke="#151515" stroke-width="1.25"/>
<rect x="344.3" y="145.7" width="6" height="6" fill="#4aa8d8" stroke="#151515" stroke-width="1.25"/>
<rect x="340.2" y="141.8" width="6" height="6" fill="#5cc4f0" stroke="#151515" stroke-width="1.25"/>
<rect x="360.2" y="152.9" width="6" height="6" fill="#5cc4f0" stroke="#151515" stroke-width="1.25"/>
<rect x="362.8" y="143.5" width="6" height="6" fill="#ecd41c" stroke="#151515" stroke-width="1.25"/>
<rect x="365.4" y="147.7" width="6" height="6" fill="#4aa8d8" stroke="#151515" stroke-width="1.25"/>
<rect x="364" y="151.8" width="6" height="6" fill="#5cc4f0" stroke="#151515" stroke-width="1.25"/>
<rect x="338.7" y="139.6" width="6" height="6" fill="#4aa8d8" stroke="#151515" stroke-width="1.25"/>
<rect x="363" y="150.8" width="6" height="6" fill="#50a8b0" stroke="#151515" stroke-width="1.25"/>
<rect x="355.8" y="152" width="6" height="6" fill="#5cc4f0" stroke="#151515" stroke-width="1.25"/>
<rect x="346.5" y="141.6" width="6" height="6" fill="#5cc4f0" stroke="#151515" stroke-width="1.25"/>
<rect x="365.8" y="144.7" width="6" height="6" fill="#d8121f" stroke="#151515" stroke-width="1.25"/>
<rect x="354.3" y="146.5" width="6" height="6" fill="#5cc4f0" stroke="#151515" stroke-width="1.25"/>
<rect x="367.9" y="142" width="6" height="6" fill="#4aa8d8" stroke="#151515" stroke-width="1.25"/>
<rect x="359.1" y="136.6" width="6" height="6" fill="#5cc4f0" stroke="#151515" stroke-width="1.25"/>
<rect x="354" y="152.1" width="6" height="6" fill="#3c7890" stroke="#151515" stroke-width="1.25"/>
<rect x="339" y="136.3" width="6" height="6" fill="#5cc4f0" stroke="#151515" stroke-width="1.25"/>
<rect x="345.6" y="153.6" width="6" height="6" fill="#5cc4f0" stroke="#151515" stroke-width="1.25"/>
<rect x="357.1" y="154.6" width="6" height="6" fill="#3c7890" stroke="#151515" stroke-width="1.25"/>
<rect x="354.9" y="146.8" width="6" height="6" fill="#4aa8d8" stroke="#151515" stroke-width="1.25"/>
<rect x="371" y="141.1" width="6" height="6" fill="#5cc4f0" stroke="#151515" stroke-width="1.25"/>
<rect x="350" y="136.3" width="6" height="6" fill="#3c7890" stroke="#151515" stroke-width="1.25"/>
<rect x="370.1" y="138.2" width="6" height="6" fill="#4aa8d8" stroke="#151515" stroke-width="1.25"/>
<rect x="367.8" y="136.2" width="6" height="6" fill="#ecd41c" stroke="#151515" stroke-width="1.25"/>
<rect x="371.9" y="139.4" width="6" height="6" fill="#5cc4f0" stroke="#151515" stroke-width="1.25"/>
<rect x="56.3" y="94.5" width="6" height="6" fill="#f5a21a" stroke="#151515" stroke-width="1.25"/>
<rect x="109.5" y="98.8" width="6" height="6" fill="#f8d8a0" stroke="#151515" stroke-width="1.25"/>
<rect x="191.5" y="99.3" width="6" height="6" fill="#f5a21a" stroke="#151515" stroke-width="1.25"/>
<rect x="198.05" y="98.55" width="6.5" height="6.5" fill="#d8121f" stroke="#151515" stroke-width="1.25"/>
<rect x="196.05" y="106.05" width="5.5" height="5.5" fill="#f5a21a" stroke="#151515" stroke-width="1.25"/>
<rect x="87.8" y="218.3" width="6" height="6" fill="#f5a21a" stroke="#151515" stroke-width="1.25"/>
<rect x="106.3" y="230.8" width="6" height="6" fill="#9a7a4e" stroke="#151515" stroke-width="1.25"/>
<circle cx="252" cy="210.3" r="3.25" fill="#a030e0" stroke="#222" stroke-width="0.8"/>
<circle cx="252" cy="222" r="3.25" fill="#e01030" stroke="#222" stroke-width="0.8"/>
<circle cx="103" cy="264.8" r="3.25" fill="#f03838" stroke="#222" stroke-width="0.8"/>
<circle cx="115" cy="272.8" r="3.25" fill="#c01818" stroke="#222" stroke-width="0.8"/>
<circle cx="124.5" cy="286.5" r="3.25" fill="#f070e0" stroke="#222" stroke-width="0.8"/>
<rect x="159.5" y="268.3" width="6" height="6" fill="#f5a21a" stroke="#151515" stroke-width="1.25"/>
<circle cx="160.3" cy="305.8" r="3.25" fill="#c030b0" stroke="#222" stroke-width="0.8"/>
<circle cx="199.5" cy="292.8" r="3.25" fill="#f8d0c8" stroke="#222" stroke-width="0.8"/>
<circle cx="246.3" cy="264.2" r="3.25" fill="#ffffff" stroke="#222" stroke-width="0.8"/>
<rect x="249.8" y="260.2" width="6" height="6" fill="#f08008" stroke="#151515" stroke-width="1.25"/>
<rect x="220.3" y="315.8" width="6" height="6" fill="#9a7a4e" stroke="#151515" stroke-width="1.25"/>
<circle cx="231.3" cy="321.5" r="3.25" fill="#e060d0" stroke="#222" stroke-width="0.8"/>
<rect x="215" y="324.8" width="6" height="6" fill="#f5a21a" stroke="#151515" stroke-width="1.25"/>
<rect x="176.05" y="326.75" width="5.5" height="5.5" fill="#9a7a4e" stroke="#151515" stroke-width="1.25"/>
<rect x="181.05" y="325.55" width="5.5" height="5.5" fill="#9a7a4e" stroke="#151515" stroke-width="1.25"/>
<rect x="183.55" y="330.55" width="5.5" height="5.5" fill="#9a7a4e" stroke="#151515" stroke-width="1.25"/>
<rect x="186.05" y="334.25" width="5.5" height="5.5" fill="#9a7a4e" stroke="#151515" stroke-width="1.25"/>
<rect x="178.55" y="333.05" width="5.5" height="5.5" fill="#9a7a4e" stroke="#151515" stroke-width="1.25"/>
<rect x="182.25" y="339.25" width="5.5" height="5.5" fill="#9a7a4e" stroke="#151515" stroke-width="1.25"/>
<rect x="187.25" y="329.25" width="5.5" height="5.5" fill="#9a7a4e" stroke="#151515" stroke-width="1.25"/>
<circle cx="184.3" cy="327.8" r="2.75" fill="#d070c0" stroke="#222" stroke-width="0.8"/>
<circle cx="178.3" cy="342" r="3" fill="#ffffff" stroke="#222" stroke-width="0.8"/>
<rect x="210.3" y="334.8" width="6" height="6" fill="#a09078" stroke="#151515" stroke-width="1.25"/>
<circle cx="205.8" cy="344.5" r="3.25" fill="#a030e0" stroke="#222" stroke-width="0.8"/>
<circle cx="212.5" cy="348.3" r="3.25" fill="#a030e0" stroke="#222" stroke-width="0.8"/>
<rect x="204.5" y="347.8" width="6" height="6" fill="#f5a21a" stroke="#151515" stroke-width="1.25"/>
<rect x="209.5" y="351.5" width="6" height="6" fill="#f5a21a" stroke="#151515" stroke-width="1.25"/>
<circle cx="223.8" cy="343.3" r="3.25" fill="#a030e0" stroke="#222" stroke-width="0.8"/>
<rect x="221.75" y="343.05" width="5.5" height="5.5" fill="#f5a21a" stroke="#151515" stroke-width="1.25"/>
<circle cx="225.8" cy="350.3" r="3.25" fill="#c030b0" stroke="#222" stroke-width="0.8"/>
<circle cx="276.9" cy="78.9" r="3.25" fill="#ffffff" stroke="#222" stroke-width="0.8"/>
<circle cx="460" cy="110.4" r="3.25" fill="#ffffff" stroke="#222" stroke-width="0.8"/>
<rect x="364.55" y="84.55" width="6.5" height="6.5" fill="#f08008" stroke="#151515" stroke-width="1.25"/>
<rect x="294.5" y="113.1" width="6" height="6" fill="#a030e0" stroke="#151515" stroke-width="1.25"/>
<rect x="313.4" y="124.7" width="6" height="6" fill="#9ab4b6" stroke="#151515" stroke-width="1.25"/>
<rect x="303.5" y="137.9" width="6" height="6" fill="#9ab4b6" stroke="#151515" stroke-width="1.25"/>
<circle cx="274.8" cy="162.2" r="3.25" fill="#e82030" stroke="#222" stroke-width="0.8"/>
<rect x="275.9" y="164" width="6" height="6" fill="#f5a21a" stroke="#151515" stroke-width="1.25"/>
<circle cx="268.9" cy="190.8" r="3.25" fill="#fbe6e0" stroke="#222" stroke-width="0.8"/>
<circle cx="276.8" cy="216.4" r="3.25" fill="#f03050" stroke="#222" stroke-width="0.8"/>
<circle cx="337.1" cy="176.9" r="3.5" fill="#ffffff" stroke="#222" stroke-width="0.8"/>
<rect x="436.9" y="131.8" width="6" height="6" fill="#f5a21a" stroke="#151515" stroke-width="1.25"/>
<rect x="424.4" y="139.3" width="6" height="6" fill="#f5a21a" stroke="#151515" stroke-width="1.25"/>
<rect x="406.3" y="144.4" width="6" height="6" fill="#e884e4" stroke="#151515" stroke-width="1.25"/>
<rect x="397" y="159" width="6" height="6" fill="#9ab4b6" stroke="#151515" stroke-width="1.25"/>
<rect x="402.65" y="169.55" width="6.5" height="6.5" fill="#7890b4" stroke="#151515" stroke-width="1.25"/>
<rect x="407.8" y="178.7" width="6" height="6" fill="#9ab4b6" stroke="#151515" stroke-width="1.25"/>
<rect x="326.4" y="111" width="6" height="6" fill="#5cc4f0" stroke="#151515" stroke-width="1.25"/>
<rect x="334.4" y="112.1" width="6" height="6" fill="#50a8b0" stroke="#151515" stroke-width="1.25"/>
<rect x="339.3" y="112.6" width="5" height="5" fill="#ecd41c" stroke="#151515" stroke-width="1.25"/>
<rect x="362.2" y="105.9" width="6" height="6" fill="#4aa8d8" stroke="#151515" stroke-width="1.25"/>
<rect x="362.8" y="111.6" width="6" height="6" fill="#4aa8d8" stroke="#151515" stroke-width="1.25"/>
<rect x="333.5" y="121.9" width="6" height="6" fill="#d8121f" stroke="#151515" stroke-width="1.25"/>
<rect x="338.2" y="123.4" width="6" height="6" fill="#d8121f" stroke="#151515" stroke-width="1.25"/>
<rect x="370.4" y="119.6" width="6" height="6" fill="#e82020" stroke="#151515" stroke-width="1.25"/>
<rect x="325.4" y="126" width="6" height="6" fill="#9ab4b6" stroke="#151515" stroke-width="1.25"/>
<rect x="328.3" y="130.3" width="6" height="6" fill="#4aa8d8" stroke="#151515" stroke-width="1.25"/>
<rect x="330.7" y="135.4" width="6" height="6" fill="#8484f0" stroke="#151515" stroke-width="1.25"/>
<rect x="341.9" y="132.2" width="6" height="6" fill="#d8121f" stroke="#151515" stroke-width="1.25"/>
<rect x="362.6" y="126" width="6" height="6" fill="#5cc4f0" stroke="#151515" stroke-width="1.25"/>
<rect x="363.5" y="131.2" width="6" height="6" fill="#9ab4b6" stroke="#151515" stroke-width="1.25"/>
<rect x="371" y="131.3" width="6" height="6" fill="#d8121f" stroke="#151515" stroke-width="1.25"/>
<rect x="373.4" y="136.9" width="6" height="6" fill="#d8121f" stroke="#151515" stroke-width="1.25"/>
<rect x="379.65" y="130.15" width="7.5" height="7.5" fill="#4aa8d8" stroke="#151515" stroke-width="1.25"/>
<circle cx="361.8" cy="139.9" r="3.25" fill="#a030e0" stroke="#222" stroke-width="0.8"/>
<rect x="363.5" y="135.9" width="6" height="6" fill="#d8121f" stroke="#151515" stroke-width="1.25"/>
<rect x="338" y="139.5" width="6" height="6" fill="#5cc4f0" stroke="#151515" stroke-width="1.25"/>
<rect x="344" y="139.5" width="6" height="6" fill="#5cc4f0" stroke="#151515" stroke-width="1.25"/>
<rect x="350" y="140" width="6" height="6" fill="#4aa8d8" stroke="#151515" stroke-width="1.25"/>
<rect x="356" y="139" width="6" height="6" fill="#5cc4f0" stroke="#151515" stroke-width="1.25"/>
<rect x="368" y="143" width="6" height="6" fill="#4aa8d8" stroke="#151515" stroke-width="1.25"/>
<rect x="374" y="136.5" width="6" height="6" fill="#d8121f" stroke="#151515" stroke-width="1.25"/>
<rect x="375" y="145" width="6" height="6" fill="#4aa8d8" stroke="#151515" stroke-width="1.25"/>
<rect x="380.5" y="144" width="6" height="6" fill="#5cc4f0" stroke="#151515" stroke-width="1.25"/>
<rect x="339" y="146" width="6" height="6" fill="#d8121f" stroke="#151515" stroke-width="1.25"/>
<rect x="345" y="145" width="6" height="6" fill="#ecd41c" stroke="#151515" stroke-width="1.25"/>
<rect x="350.5" y="146" width="6" height="6" fill="#ecd41c" stroke="#151515" stroke-width="1.25"/>
<rect x="356" y="145" width="6" height="6" fill="#f5a21a" stroke="#151515" stroke-width="1.25"/>
<rect x="361.7" y="144" width="6" height="6" fill="#4aa8d8" stroke="#151515" stroke-width="1.25"/>
<rect x="368" y="144" width="6" height="6" fill="#4aa8d8" stroke="#151515" stroke-width="1.25"/>
<rect x="378.5" y="146" width="6" height="6" fill="#4aa8d8" stroke="#151515" stroke-width="1.25"/>
<rect x="340" y="151.5" width="6" height="6" fill="#5cc4f0" stroke="#151515" stroke-width="1.25"/>
<rect x="345.7" y="151.5" width="6" height="6" fill="#4aa8d8" stroke="#151515" stroke-width="1.25"/>
<rect x="356" y="150.5" width="6" height="6" fill="#5cc4f0" stroke="#151515" stroke-width="1.25"/>
<rect x="371" y="155" width="6" height="6" fill="#4aa8d8" stroke="#151515" stroke-width="1.25"/>
<circle cx="353.4" cy="156" r="3.25" fill="#a030e0" stroke="#222" stroke-width="0.8"/>
<circle cx="363.3" cy="158" r="3.25" fill="#c030b0" stroke="#222" stroke-width="0.8"/>
<circle cx="366" cy="153" r="3.25" fill="#f080d0" stroke="#222" stroke-width="0.8"/>
<circle cx="370.3" cy="157.2" r="3.25" fill="#b0b0b0" stroke="#222" stroke-width="0.8"/>
<circle cx="383.5" cy="155.5" r="4" fill="#c8e0f8" stroke="#222" stroke-width="0.8"/>
<rect x="334.1" y="159.8" width="6" height="6" fill="#ecd41c" stroke="#151515" stroke-width="1.25"/>
<circle cx="349.1" cy="161.5" r="3.25" fill="#708040" stroke="#222" stroke-width="0.8"/>
<rect x="347.9" y="167.3" width="6" height="6" fill="#9ab4b6" stroke="#151515" stroke-width="1.25"/>
<rect x="351.3" y="167.3" width="6" height="6" fill="#9ab4b6" stroke="#151515" stroke-width="1.25"/>
<circle cx="362.4" cy="169" r="3.5" fill="#f8c8b8" stroke="#222" stroke-width="0.8"/>
<rect x="359.4" y="172.9" width="6" height="6" fill="#ecd41c" stroke="#151515" stroke-width="1.25"/>
<rect x="355.2" y="175.3" width="5" height="5" fill="#ecd41c" stroke="#151515" stroke-width="1.25"/>
<rect x="358.8" y="182.3" width="6" height="6" fill="#5cc4f0" stroke="#151515" stroke-width="1.25"/>
<rect x="362.75" y="181.05" width="7.5" height="7.5" fill="#5cc4f0" stroke="#151515" stroke-width="1.25"/>
<rect x="368.7" y="183.8" width="5" height="5" fill="#5cc4f0" stroke="#151515" stroke-width="1.25"/>
<rect x="362.6" y="189.9" width="7" height="7" fill="#5cc4f0" stroke="#151515" stroke-width="1.25"/>
<rect x="369.1" y="190.8" width="6" height="6" fill="#f5a21a" stroke="#151515" stroke-width="1.25"/>
<circle cx="616.8" cy="106.8" r="3.25" fill="#a8cc30" stroke="#222" stroke-width="0.8"/>
<circle cx="495.5" cy="68" r="3.5" fill="#f01070" stroke="#222" stroke-width="0.8"/>
<rect x="613.05" y="183.55" width="6.5" height="6.5" fill="#d8121f" stroke="#151515" stroke-width="1.25"/>
<circle cx="620" cy="192.5" r="3.25" fill="#a8cc30" stroke="#222" stroke-width="0.8"/>
<rect x="613.55" y="198.55" width="6.5" height="6.5" fill="#f8d8a0" stroke="#151515" stroke-width="1.25"/>
<circle cx="539.3" cy="243.8" r="3.25" fill="#f0c8b0" stroke="#222" stroke-width="0.8"/>
<circle cx="540.8" cy="247" r="3" fill="#a8cc30" stroke="#222" stroke-width="0.8"/>
<rect x="613.75" y="296.25" width="6.5" height="6.5" fill="#f8d8a0" stroke="#151515" stroke-width="1.25"/>
<circle cx="387.5" cy="341.3" r="3.25" fill="#804828" stroke="#222" stroke-width="0.8"/>
<circle cx="400.5" cy="336" r="3.25" fill="#f8d0c8" stroke="#222" stroke-width="0.8"/>
<circle cx="404.5" cy="341.3" r="3.25" fill="#f070d0" stroke="#222" stroke-width="0.8"/>
<circle cx="415" cy="340.8" r="3.25" fill="#f8a0e0" stroke="#222" stroke-width="0.8"/>
<circle cx="420" cy="340" r="3.25" fill="#f8d0c8" stroke="#222" stroke-width="0.8"/>
</svg><div class="abs" style="left:6px;top:6px;width:19px;height:18.5px;background:rgba(76,74,66,.78)"><svg width="19" height="19" viewBox="0 0 19 19" style="position:absolute;left:0;top:0"><path d="M4.5 9H14.5M9.5 4V14" stroke="#fff" stroke-width="1.6"/></svg></div>
<div class="abs" style="left:6px;top:29px;width:19px;height:18.5px;background:rgba(76,74,66,.78)"><svg width="19" height="19" viewBox="0 0 19 19" style="position:absolute;left:0;top:0"><path d="M5 9H14" stroke="#fff" stroke-width="1.4"/></svg></div>
<div class="abs" style="left:6px;top:51px;width:19px;height:18.5px;background:rgba(76,74,66,.78)"><svg width="19" height="19" viewBox="0 0 19 19" style="position:absolute;left:0;top:0"><path d="M9.5 3.5 L3.5 9.5 H5.2 V15 H8.2 V11.5 H10.8 V15 H13.8 V9.5 H15.5 L13.3 7.3 V4.5 H11.8 V5.8 Z" fill="#fff"/></svg></div>
<div class="abs" style="left:31.2px;top:6px;width:22.8px;height:22.6px;background:rgba(76,74,66,.78)"><svg width="23" height="23" viewBox="0 0 23 23" style="position:absolute;left:0;top:0"><g fill="#e4e4e4"><rect x="6.3" y="7" width="1.6" height="1.6"/><rect x="9" y="7.2" width="8.3" height="1.1"/><rect x="6.3" y="10.8" width="1.6" height="1.6"/><rect x="9" y="11" width="8.3" height="1.1"/><rect x="6.3" y="14.6" width="1.6" height="1.6"/><rect x="9" y="14.8" width="8.3" height="1.1"/></g></svg></div>
<div class="abs" style="left:59.85px;top:6px;width:22.8px;height:22.6px;background:rgba(76,74,66,.78)"><svg width="23" height="23" viewBox="0 0 23 23" style="position:absolute;left:0;top:0"><g fill="#e8e8e8"><path d="M11.5 6 L17 8.7 L11.5 11.4 L6 8.7Z"/><path d="M6 10.6 L11.5 13.3 L17 10.6 L17 11.5 L11.5 14.3 L6 11.5Z"/><path d="M6 13.2 L11.5 15.9 L17 13.2 L17 14.2 L11.5 17 L6 14.2Z"/></g></svg></div>
<div class="abs" style="left:88.5px;top:6px;width:22.8px;height:22.6px;background:rgba(76,74,66,.78)"><svg width="23" height="23" viewBox="0 0 23 23" style="position:absolute;left:0;top:0"><g><path d="M11.5 6.5 C15 6.5 17 8.8 17 11.3 C17 13 15.8 13.6 14.6 13.3 C13.5 13 12.8 13.6 13.1 14.7 C13.4 15.8 12.6 16.4 11.3 16.4 C8.2 16.4 6 14.2 6 11.4 C6 8.6 8.3 6.5 11.5 6.5Z" fill="#dcdcdc"/><circle cx="9" cy="10" r="1" fill="#666"/><circle cx="11.8" cy="8.8" r="1" fill="#666"/><circle cx="14.5" cy="10.3" r="1" fill="#666"/><circle cx="9.3" cy="13.3" r="1" fill="#666"/></g></svg></div>
<div class="abs" style="left:117.15px;top:6px;width:22.8px;height:22.6px;background:rgba(76,74,66,.78)"><svg width="23" height="23" viewBox="0 0 23 23" style="position:absolute;left:0;top:0"><g fill="#e4e4e4"><path d="M6 16.5 L8 9 L10.3 9 L11.5 11.5 L12.7 9 L15 9 L17 16.5Z"/><path d="M11.5 5.5 L13.3 8 L12.2 8 L12.2 10 L10.8 10 L10.8 8 L9.7 8Z"/></g></svg></div>
<div class="abs" style="left:145.8px;top:6px;width:22.8px;height:22.6px;background:rgba(76,74,66,.78)"><svg width="23" height="23" viewBox="0 0 23 23" style="position:absolute;left:0;top:0"><g fill="#e8e8e8"><rect x="8" y="6.5" width="7" height="3"/><rect x="6" y="10" width="11" height="4.3" rx=".6"/><rect x="8" y="13.2" width="7" height="3.6" stroke="#666" stroke-width=".6"/></g></svg></div>
<div class="abs" style="left:454px;top:6.5px;width:174.5px;height:21px;background:#222;border-radius:2px;box-shadow:0 0 1px #000"><div class="abs" style="left:7px;top:8.5px;border-left:4px solid transparent;border-right:4px solid transparent;border-top:4.5px solid #e0e0e0"></div><div class="abs" style="left:21px;top:0;width:1px;height:21px;background:#444"></div><div class="abs" style="left:29.5px;top:5px;font-size:9px;color:#8a8a8a;white-space:nowrap">Search by Address or Proje</div><div class="abs" style="left:153px;top:0;width:1px;height:21px;background:#444"></div><svg class="abs" style="left:157.5px;top:4px" width="14" height="14" viewBox="0 0 14 14"><circle cx="5.6" cy="5.6" r="2.9" fill="none" stroke="#e8e8e8" stroke-width="1.4"/><path d="M7.8 7.8 L10.8 10.8" stroke="#e8e8e8" stroke-width="1.9"/></svg></div>
<div class="abs" style="left:302px;top:282.2px;width:285px;height:11px;background:rgba(255,255,255,.7);font-size:8px;line-height:11px;color:#3a3a3a;white-space:nowrap;padding-left:2.4px"><span style="display:inline-block;transform-origin:0 50%;transform:scaleX(.993)">Esri, HERE, Garmin, USGS, NGA, EPA, USDA, NPS | MD iMAP, DoIT, MDP, ...</span></div>
<div class="abs" style="left:592.5px;top:269.4px;width:40px;height:22px;color:#fff;text-shadow:0 0 1.5px rgba(0,0,0,.6),0 0 1px rgba(0,0,0,.5)"><div class="abs" style="left:2.5px;top:-.5px;font-size:4.4px;font-weight:bold;letter-spacing:.1px;white-space:nowrap;line-height:5px">POWERED BY</div><div class="abs" style="left:0;top:0;font-size:22px;font-weight:bold;letter-spacing:-1.1px;line-height:22px">esri</div></div>
</div>
<div id="rp" class="abs panel">
  <div class="abs ptitle" style="left:7px;top:2px;transform:scaleX(.926)">Neighborhood Revitalization Programs</div>
  <div class="abs ptitle" style="left:163.5px;top:2px;color:#555;transform:scaleX(.876)">Primary Projects by Layers</div>
  <div class="abs maxi" style="left:374px;top:3.6px"></div>
  <div class="abs" style="left:7px;top:20.5px;font-size:10px;color:#8a8a8a;white-space:nowrap;transform-origin:0 50%;transform:scaleX(.87)">NR Programs Data (Primary)</div>
  <div id="rpblack" class="abs">
    <svg class="abs" style="left:5px;top:9px" width="8" height="6" viewBox="0 0 8 6"><path d="M1 1 L4 4 L7 1" stroke="#ddd" stroke-width="1.3" fill="none"/></svg>
    <div class="abs lbl" style="left:34px;top:8px;-webkit-text-stroke:.25px #fff">NR Programs Data (Primary)</div>
    <div class="abs" style="left:355px;top:8px;width:22px;height:12px;border-radius:6px;background:#12985f"><div class="abs" style="right:1px;top:1px;width:10px;height:10px;border-radius:5px;background:#fff"></div></div>
    <div class="abs lbl" style="left:20px;top:29px">Fiscal Year is</div>
    <div class="abs sel" style="top:44px"><span>All Years (2019 to 2022)</span><i></i></div>
    <div class="abs lbl" style="left:20px;top:73px">Program Name is</div>
    <div class="abs sel" style="top:88px"><span>All Programs</span><i></i></div>
    <div class="abs lbl" style="left:20px;top:118px">County is</div>
    <div class="abs sel" style="top:133px"><span>Statewide</span><i></i></div>
  </div>
  <div class="abs" style="left:352.8px;top:284.7px;width:18.4px;height:18.4px;border-radius:50%;border:1px solid #d8d8d8;background:#303030"><div class="abs" style="left:3.1px;top:7.2px;width:2.6px;height:2.6px;border-radius:50%;background:#fff;box-shadow:3.95px 0 0 #fff,7.9px 0 0 #fff"></div></div>
</div>
<div id="bl" class="abs panel">
  <div class="abs ptitle" style="left:6px;top:2px;transform:scaleX(.919)">Neighborhood Revitalization Program Info Summary</div>
  <div class="abs maxi" style="left:624.3px;top:3.6px"></div>
  <svg class="abs" style="left:0;top:0" width="635" height="142" viewBox="0 0 635 142"><path d="M0 78.1H631M0 97.7H631M0 117.3H631M0 137H631" stroke="#686868" stroke-width="1.5"/><path d="M0 13.5 H630.5 V58.3 H316 C314.5 58.3 314.3 53.4 312.5 53.4 H286.5 C284.7 53.4 284.5 58.3 283 58.3 H0" fill="none" stroke="#a4a4a4" stroke-width="1"/><path d="M295.1 57.9 L299.15 54 L303.2 57.9" fill="none" stroke="#fff" stroke-width="1.3"/><circle cx="22.2" cy="35.7" r="15.5" fill="#666" stroke="#ddd" stroke-width="1.1"/></svg><div class="abs" style="left:6.7px;top:20.2px;width:31px;height:31px;border-radius:50%;overflow:hidden"><div class="abs" style="left:4.6px;top:4.7px;width:21.7px;height:21.7px"><svg width="21.7" height="21.7" viewBox="0 0 360 360"><rect width="360" height="360" fill="#fff"/><rect x="0" y="0" width="165" height="240" fill="#fdb913"/><polygon points="20,80 165,195 165,240 20,240" fill="#000"/><polygon points="0,15 20,25 20,75 0,62" fill="#000"/><path d="M165,0 H268 Q335,30 338,115 L300,140 V215 H255 L165,170 Z" fill="#000"/><polygon points="165,172 250,215 165,215" fill="#fdb913"/><path d="M285,28 Q360,55 360,150 V340 H300 V100 Z" fill="#c8103c"/><path d="M0,240 H300 V340 H245 Q225,360 195,360 H0 Z" fill="#c8103c"/><rect x="281" y="85" width="42" height="252" rx="18" fill="#fff"/><rect x="226" y="127" width="125" height="40" rx="18" fill="#fff"/><rect x="44" y="225" width="292" height="40" rx="18" fill="#fff"/><rect x="91" y="174" width="40" height="140" rx="18" fill="#fff"/><rect x="340" y="172" width="20" height="28" fill="#fff"/><rect x="340" y="232" width="20" height="28" fill="#fff"/><rect x="340" y="292" width="20" height="28" fill="#fff"/></svg></div></div>
  <div class="abs" style="left:246.5px;top:29.5px;font-size:10.5px;white-space:nowrap;color:#f0f0f0;transform-origin:0 50%;transform:scaleX(.957)">NR Programs Data (Primary)</div>
  <div class="abs" style="left:593px;top:25px;font-size:18px;white-space:nowrap;color:#f0f0f0">525</div>
  <div class="abs" style="left:631px;top:13px;width:4px;height:129px;background:#000"></div>
  <div class="abs" style="left:631px;top:13px;width:4px;height:10px;background:#a0a0a0"></div>
  <div class="abs row" style="top:58px"><b style="background:#b01010"></b><span>2019 - SDF-CORE-2019-RBM-00099 - Baltimore City</span></div>
  <div class="abs row" style="top:78px"><b style="background:#c01515"></b><span>2019 - SRP-SDF-2019-Chestertown-00360 - Kent</span></div>
  <div class="abs row" style="top:97px"><b style="background:#c08010"></b><span>2019 - SRP-CL-2019-HDNPC-00072 - Baltimore City</span></div>
  <div class="abs row" style="top:117px"><b style="background:#5aa5c0"></b><span>2019 - SRP-BRNI-2019-SWP-00020 - Baltimore City</span></div>
</div>
<div id="br" class="abs panel">
  <div class="abs ptitle" style="left:7px;top:2px;transform:scaleX(.897)">Primary Project Count</div>
  <div class="abs maxi" style="left:374px;top:3.6px"></div>
<svg class="abs" style="left:0;top:0" width="386" height="142" viewBox="0 0 386 142">
<path d="M192.50 89.30 L192.50 40.70 A48.6 48.6 0 0 1 193.60 40.71 Z" fill="#b8b8b8" stroke="#b8b8b8" stroke-width=".3"/>
<path d="M192.50 89.30 L193.60 40.71 A48.6 48.6 0 0 1 194.70 40.75 Z" fill="#e8d0e8" stroke="#e8d0e8" stroke-width=".3"/>
<path d="M192.50 89.30 L194.70 40.75 A48.6 48.6 0 0 1 195.55 40.80 Z" fill="#888888" stroke="#888888" stroke-width=".3"/>
<path d="M192.50 89.30 L195.55 40.80 A48.6 48.6 0 0 1 196.74 40.88 Z" fill="#d8a0a0" stroke="#d8a0a0" stroke-width=".3"/>
<path d="M192.50 89.30 L196.74 40.88 A48.6 48.6 0 0 1 198.34 41.05 Z" fill="#c03030" stroke="#c03030" stroke-width=".3"/>
<path d="M192.50 89.30 L198.34 41.05 A48.6 48.6 0 0 1 200.27 41.33 Z" fill="#2090c0" stroke="#2090c0" stroke-width=".3"/>
<path d="M192.50 89.30 L200.27 41.33 A48.6 48.6 0 0 1 202.94 41.83 Z" fill="#8020c0" stroke="#8020c0" stroke-width=".3"/>
<path d="M192.50 89.30 L202.94 41.83 A48.6 48.6 0 0 1 207.11 42.95 Z" fill="#705840" stroke="#705840" stroke-width=".3"/>
<path d="M192.50 89.30 L207.11 42.95 A48.6 48.6 0 0 1 215.09 46.27 Z" fill="#b01010" stroke="#b01010" stroke-width=".3"/>
<path d="M192.50 89.30 L215.09 46.27 A48.6 48.6 0 0 1 222.49 51.05 Z" fill="#c8b818" stroke="#c8b818" stroke-width=".3"/>
<path d="M192.50 89.30 L222.49 51.05 A48.6 48.6 0 0 1 229.23 57.48 Z" fill="#b87810" stroke="#b87810" stroke-width=".3"/>
<path d="M192.50 89.30 L229.23 57.48 A48.6 48.6 0 0 1 235.53 66.71 Z" fill="#1050b0" stroke="#1050b0" stroke-width=".3"/>
<path d="M192.50 89.30 L235.53 66.71 A48.6 48.6 0 0 1 240.55 82.03 Z" fill="#b01010" stroke="#b01010" stroke-width=".3"/>
<path d="M192.50 89.30 L240.55 82.03 A48.6 48.6 0 0 1 239.38 102.12 Z" fill="#a85898" stroke="#a85898" stroke-width=".3"/>
<path d="M192.50 89.30 L239.38 102.12 A48.6 48.6 0 0 1 219.47 129.73 Z" fill="#5898a8" stroke="#5898a8" stroke-width=".3"/>
<path d="M192.50 89.30 L219.47 129.73 A48.6 48.6 0 0 1 158.74 124.26 Z" fill="#a80c0c" stroke="#a80c0c" stroke-width=".3"/>
<path d="M192.50 89.30 L158.74 124.26 A48.6 48.6 0 0 1 192.50 40.70 Z" fill="#466434" stroke="#466434" stroke-width=".3"/>
</svg>
<svg class="abs" style="left:365.3px;top:21.1px" width="11" height="11" viewBox="0 0 24 24"><path fill="#e0e0e0" d="M19.4 13c.04-.3.06-.66.06-1s-.02-.7-.07-1l2.1-1.65a.5.5 0 0 0 .12-.64l-2-3.46a.5.5 0 0 0-.6-.22l-2.5 1a7.3 7.3 0 0 0-1.7-1l-.37-2.65A.5.5 0 0 0 14 2h-4a.5.5 0 0 0-.5.42l-.37 2.65c-.6.25-1.17.6-1.7 1l-2.48-1a.5.5 0 0 0-.6.22l-2 3.46a.5.5 0 0 0 .12.64L4.57 11c-.05.3-.07.66-.07 1s.02.7.07 1l-2.1 1.65a.5.5 0 0 0-.12.64l2 3.46c.12.22.38.3.6.22l2.5-1c.52.4 1.08.73 1.7 1l.37 2.65c.04.24.25.42.5.42h4c.25 0 .46-.18.5-.42l.37-2.65c.6-.25 1.17-.6 1.7-1l2.48 1c.23.08.5 0 .6-.22l2-3.46a.5.5 0 0 0-.12-.64L19.4 13zM12 15.5a3.5 3.5 0 1 1 0-7 3.5 3.5 0 0 1 0 7z"/></svg>
</div>
</body></html>
